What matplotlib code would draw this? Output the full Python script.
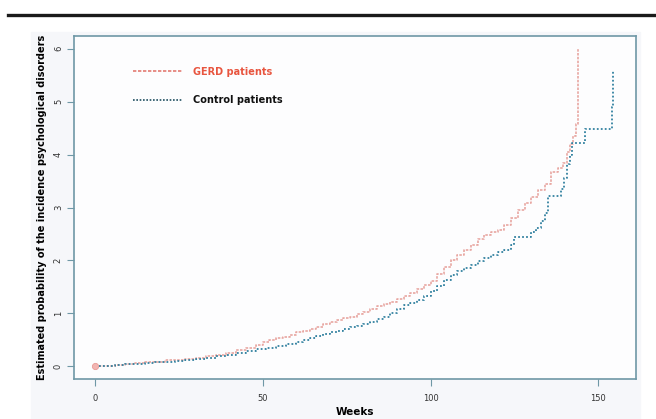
import numpy as np
import matplotlib
matplotlib.use('Agg')
import matplotlib.pyplot as plt
from matplotlib.lines import Line2D
from matplotlib.patches import Rectangle

# step points (weeks, cumulative incidence)
gerd_weeks = [0, 3, 6, 9, 12, 15, 18, 21, 24, 27, 30, 33, 36, 39, 42, 45, 48, 50,
              52, 54, 56, 58, 60, 62, 64, 66, 68, 70, 72, 74, 76, 78, 80, 82, 84,
              86, 88, 90, 92, 94, 96, 98, 100, 102, 104, 106, 108, 110, 112, 114,
              116, 118, 120, 122, 124, 126, 128, 130, 132, 134, 136, 138, 139.5,
              140.5, 141.5, 142.5, 143.4, 144]
gerd_vals = [0, 0.01, 0.03, 0.04, 0.06, 0.08, 0.09, 0.11, 0.12, 0.13, 0.16, 0.19,
             0.22, 0.26, 0.3, 0.35, 0.41, 0.45, 0.5, 0.53, 0.56, 0.6, 0.64, 0.67,
             0.71, 0.75, 0.8, 0.84, 0.87, 0.91, 0.94, 0.99, 1.03, 1.08, 1.13, 1.18,
             1.22, 1.27, 1.33, 1.39, 1.46, 1.53, 1.62, 1.74, 1.88, 2.0, 2.1, 2.2,
             2.3, 2.4, 2.48, 2.53, 2.58, 2.66, 2.8, 2.95, 3.08, 3.2, 3.33, 3.45,
             3.67, 3.75, 3.85, 4.05, 4.2, 4.35, 4.58, 6.0]

ctrl_weeks = [0, 3, 6, 9, 12, 15, 18, 21, 24, 27, 30, 33, 36, 39, 42, 45, 48, 51,
              54, 57, 60, 62, 64, 66, 68, 70, 72, 74, 76, 78, 80, 82, 84, 86, 88,
              90, 92, 94, 96, 98, 100, 102, 104, 106, 108, 110, 112, 114, 116, 118,
              120, 122, 124, 125, 130, 131.5, 133, 134, 135, 139, 139.7, 140.5,
              141.5, 142.2, 146, 154, 154.3]
ctrl_vals = [0, 0.01, 0.02, 0.04, 0.05, 0.07, 0.08, 0.09, 0.1, 0.11, 0.13, 0.16,
             0.19, 0.22, 0.25, 0.29, 0.32, 0.35, 0.39, 0.42, 0.46, 0.5, 0.54, 0.57,
             0.61, 0.64, 0.67, 0.71, 0.75, 0.77, 0.8, 0.84, 0.89, 0.94, 1.0, 1.08,
             1.15, 1.2, 1.25, 1.32, 1.42, 1.52, 1.63, 1.73, 1.8, 1.86, 1.92, 1.98,
             2.04, 2.1, 2.15, 2.2, 2.29, 2.45, 2.53, 2.62, 2.75, 2.9, 3.21, 3.35,
             3.55, 3.83, 4.0, 4.21, 4.49, 4.9, 5.6]

labels = ['GERD patients', 'Control patients']
xticks = [0, 50, 100, 150]
yticks = [0, 1, 2, 3, 4, 5, 6]

W, H = 656, 419
fig = plt.figure(figsize=(W / 100, H / 100), dpi=100)

# light panel behind the plot and rule at top of page
fig.add_artist(Rectangle((31 / W, 0), (640 - 31) / W, 1 - 32 / H,
                         transform=fig.transFigure, color='#f6f7fa', zorder=-10))
fig.add_artist(Line2D([8 / W, 1], [1 - 15 / H, 1 - 15 / H], color='#1a1a1a', lw=2.4))

ax = fig.add_axes([74 / W, 1 - 379 / H, (636 - 74) / W, (379 - 36) / H])
ax.set_facecolor('#fdfdfe')

red_line = '#e8a7a2'
blue_line = '#3382a0'

ax.plot(gerd_weeks, gerd_vals, drawstyle='steps-post', color=red_line,
        lw=1.2, linestyle=(0, (1.5, 0.8)))
ax.plot(ctrl_weeks, ctrl_vals, drawstyle='steps-post', color=blue_line,
        lw=1.3, linestyle=(0, (1, 1.2)))
ax.plot(gerd_weeks[0], gerd_vals[0], 'o', ms=4.5, mfc='#f2b5b2', mec='#e89a96', mew=0.6)

ax.set_xlim(-6.2, 161.2)
ax.set_ylim(-0.24, 6.24)
ax.set_xticks(xticks)
ax.set_yticks(yticks)
ax.tick_params(length=5, width=0.8, color='#6f98a6', labelsize=6, labelcolor='#333333')
ax.tick_params(axis='x', pad=5.5)
ax.tick_params(axis='y', pad=3)
for lab in ax.get_yticklabels():
    lab.set_rotation(90)
    lab.set_va('center')
for sp in ax.spines.values():
    sp.set_color('#6f98a6')
    sp.set_linewidth(1.2)

ax.set_xlabel('Weeks', fontsize=7.5, fontweight='bold', labelpad=3)
ax.set_ylabel('Estimated probability of the incidence psychological disorders',
              fontsize=7, fontweight='bold', labelpad=5)

handles = [Line2D([], [], color='#e37b72', lw=1.2, linestyle=(0, (2, 1))),
           Line2D([], [], color='#1f4f60', lw=1.2, linestyle=(0, (1, 1)))]
leg = ax.legend(handles, labels, loc='upper left', bbox_to_anchor=(0.105, 0.91),
                frameon=False, prop={'size': 7, 'weight': 'bold'}, handlelength=5,
                handletextpad=1.2, labelspacing=1.9, borderpad=0, borderaxespad=0)
leg.get_texts()[0].set_color('#e8553f')
leg.get_texts()[1].set_color('#111111')

fig.savefig('out.png', dpi=100)
